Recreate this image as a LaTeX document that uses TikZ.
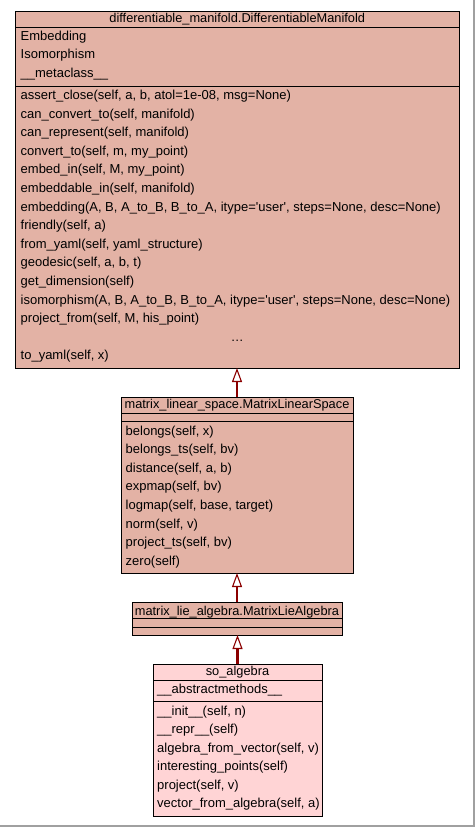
\documentclass[tikz,border=0pt]{standalone}
\usepackage{fontspec}
\setmainfont{Liberation Sans}[Ligatures=TeXOff]
\usetikzlibrary{arrows.meta}
\definecolor{boxfill}{HTML}{E3B2A5}
\definecolor{leaffill}{HTML}{FFD4D5}
\definecolor{inhcol}{HTML}{8B0000}
\definecolor{framecol}{HTML}{A0A0A0}
\tikzset{
  classbox/.style={draw=black, line width=1.0pt, fill=boxfill, rectangle, inner sep=0pt, outer sep=0pt},
  leafbox/.style={classbox, fill=leaffill},
  sepline/.style={draw=black, line width=1.0pt},
  member/.style={anchor=base west, inner sep=0pt, font=\fontsize{13}{14}\selectfont},
  ctitle/.style={anchor=base, inner sep=0pt, font=\fontsize{12.8}{14}\selectfont},
  inherit/.style={draw=inhcol, line width=2.2pt,
    -{Triangle[length=14pt, width=10pt, fill=white, line width=1.1pt]}},
}
\begin{document}
\begin{tikzpicture}[x=1pt, y=-1pt]
  \useasboundingbox (0,0) rectangle (475,827);
  \fill[white] (0,0) rectangle (475,827);
  \draw[framecol, line width=1.2pt] (474,0) -- (474,826) -- (0,826);

  % differentiable_manifold.DifferentiableManifold
  \node[classbox, minimum width=443.5pt, minimum height=357pt] (dm) at (237.25,189.5) {};
  \draw[sepline] (15.5,27) -- (459,27);
  \draw[sepline] (15.5,86) -- (459,86);
  \node[ctitle] (dm-t) at (237.25,22) {differentiable\_manifold.DifferentiableManifold};
  \foreach \txt [count=\i from 0] in {Embedding, Isomorphism, \_\_metaclass\_\_}
    \node[member] (dm-a\i) at (20.5,40.3+18.6*\i) {\txt};
  \foreach \txt [count=\i from 0] in {
      {assert\_close(self, a, b, atol=1e-08, msg=None)},
      {can\_convert\_to(self, manifold)},
      {can\_represent(self, manifold)},
      {convert\_to(self, m, my\_point)},
      {embed\_in(self, M, my\_point)},
      {embeddable\_in(self, manifold)},
      {embedding(A, B, A\_to\_B, B\_to\_A, itype='user', steps=None, desc=None)},
      {friendly(self, a)},
      {from\_yaml(self, yaml\_structure)},
      {geodesic(self, a, b, t)},
      {get\_dimension(self)},
      {isomorphism(A, B, A\_to\_B, B\_to\_A, itype='user', steps=None, desc=None)},
      {project\_from(self, M, his\_point)}}
    \node[member] (dm-m\i) at (20.5,99.5+18.6*\i) {\txt};
  \node[ctitle] (dm-more) at (237.25,99.5+18.6*13) {\ldots};
  \node[member] (dm-last) at (20.5,99.5+18.6*14) {to\_yaml(self, x)};

  % matrix_linear_space.MatrixLinearSpace
  \node[classbox, minimum width=232pt, minimum height=176pt] (mls) at (237,485) {};
  \draw[sepline] (121,413) -- (353,413);
  \draw[sepline] (121,421) -- (353,421);
  \node[ctitle] (mls-t) at (237,408.5) {matrix\_linear\_space.MatrixLinearSpace};
  \foreach \txt [count=\i from 0] in {
      {belongs(self, x)},
      {belongs\_ts(self, bv)},
      {distance(self, a, b)},
      {expmap(self, bv)},
      {logmap(self, base, target)},
      {norm(self, v)},
      {project\_ts(self, bv)},
      {zero(self)}}
    \node[member] (mls-m\i) at (125.5,435+18.6*\i) {\txt};

  % matrix_lie_algebra.MatrixLieAlgebra
  \node[classbox, minimum width=210pt, minimum height=33pt] (mla) at (237,618.5) {};
  \draw[sepline] (132,618) -- (342,618);
  \draw[sepline] (132,627) -- (342,627);
  \node[ctitle] (mla-t) at (237,615) {matrix\_lie\_algebra.MatrixLieAlgebra};

  % so_algebra
  \node[leafbox, minimum width=169pt, minimum height=152pt] (so) at (237.5,740) {};
  \draw[sepline] (153,680) -- (322,680);
  \draw[sepline] (153,701) -- (322,701);
  \node[ctitle] (so-t) at (237.5,675.5) {so\_algebra};
  \node[member] (so-a0) at (157,693.5) {\_\_abstractmethods\_\_};
  \foreach \txt [count=\i from 0] in {
      {\_\_init\_\_(self, n)},
      {\_\_repr\_\_(self)},
      {algebra\_from\_vector(self, v)},
      {interesting\_points(self)},
      {project(self, v)},
      {vector\_from\_algebra(self, a)}}
    \node[member] (so-m\i) at (157,715+18.5*\i) {\txt};

  % inheritance arrows
  \draw[inherit] (mls.north) -- (dm.south -| mls.north);
  \draw[inherit] (mla.north) -- (mls.south -| mla.north);
  \draw[inherit] (so.north) -- (mla.south -| so.north);
\end{tikzpicture}
\end{document}
